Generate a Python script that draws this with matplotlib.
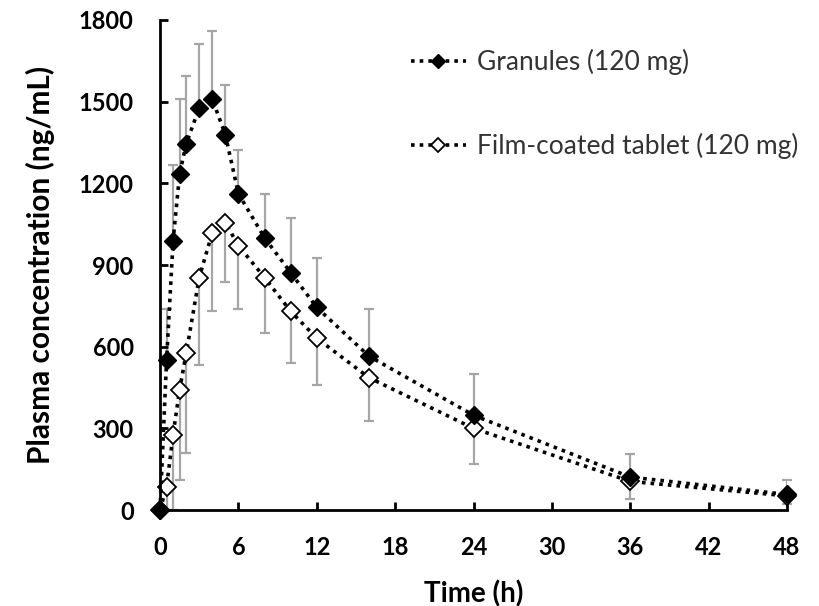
import matplotlib.pyplot as plt
import numpy as np

# sampling times (h)
time_h = [0, 0.5, 1, 1.5, 2, 3, 4, 5, 6, 8, 10, 12, 16, 24, 36, 48]

# mean plasma concentration (ng/mL) and SD
granules = [0, 550, 990, 1235, 1345, 1477, 1510, 1378, 1162, 1000, 872, 744, 565, 348, 121, 57]
granules_sd = [0, 187, 278, 275, 250, 235, 250, 184, 161, 162, 202, 183, 172, 151, 84, 55]
tablet = [0, 86, 277, 442, 575, 854, 1019, 1056, 971, 854, 730, 631, 486, 300, 105, 52]
tablet_sd = [0, 86, 277, 332, 366, 320, 289, 220, 234, 202, 191, 173, 160, 131, 65, 30]

xticks = [0, 6, 12, 18, 24, 30, 36, 42, 48]
yticks = [0, 300, 600, 900, 1200, 1500, 1800]

plt.rcParams['font.family'] = ['Lato', 'DejaVu Sans']

fig = plt.figure(figsize=(8.19, 6.06), dpi=100)
ax = fig.add_axes([0.1954, 0.1584, 0.7656, 0.8086])

err_kw = dict(fmt='none', ecolor='#a6a6a6', elinewidth=1.6, capsize=3.5, capthick=1.6, zorder=1)
# granules: upper bars only, tablet: lower bars only
ax.errorbar(time_h, granules, yerr=[np.zeros(len(granules_sd)), granules_sd], **err_kw)
ax.errorbar(time_h, tablet, yerr=[tablet_sd, np.zeros(len(tablet_sd))], **err_kw)

ax.plot(time_h, tablet, linestyle=(0, (1, 1.4)), color='black', linewidth=2.6,
        marker='D', markersize=9, markerfacecolor='white', markeredgecolor='black',
        markeredgewidth=1.3, label='Film-coated tablet (120 mg)', zorder=3)
ax.plot(time_h, granules, linestyle=(0, (1, 1.4)), color='black', linewidth=2.6,
        marker='D', markersize=9, markerfacecolor='black', markeredgecolor='black',
        label='Granules (120 mg)', zorder=4)

ax.set_xlim(0, 48)
ax.set_ylim(0, 1800)
ax.set_xticks(xticks)
ax.set_yticks(yticks)
for s in ['top', 'right']:
    ax.spines[s].set_visible(False)
for s in ['left', 'bottom']:
    ax.spines[s].set_linewidth(2)
    ax.spines[s].set_zorder(5)
ax.tick_params(direction='in', length=6, width=2, labelsize=17, pad=19)
for lab in ax.get_xticklabels() + ax.get_yticklabels():
    lab.set_fontweight('bold')

ax.set_xlabel('Time (h)', fontsize=20, fontweight='bold', labelpad=15)
ax.set_ylabel('Plasma concentration (ng/mL)', fontsize=21.5, fontweight='bold', labelpad=17)

handles, labels = ax.get_legend_handles_labels()
leg = ax.legend(handles[::-1], labels[::-1], loc='upper left', bbox_to_anchor=(0.383, 0.962),
                frameon=False, fontsize=19, handlelength=2.1, labelspacing=2.2,
                handletextpad=0.4, borderaxespad=0, markerscale=0.75)
for t in leg.get_texts():
    t.set_color('#333333')

for ln in ax.lines:
    ln.set_clip_on(False)

fig.savefig('out.png', dpi=100)
